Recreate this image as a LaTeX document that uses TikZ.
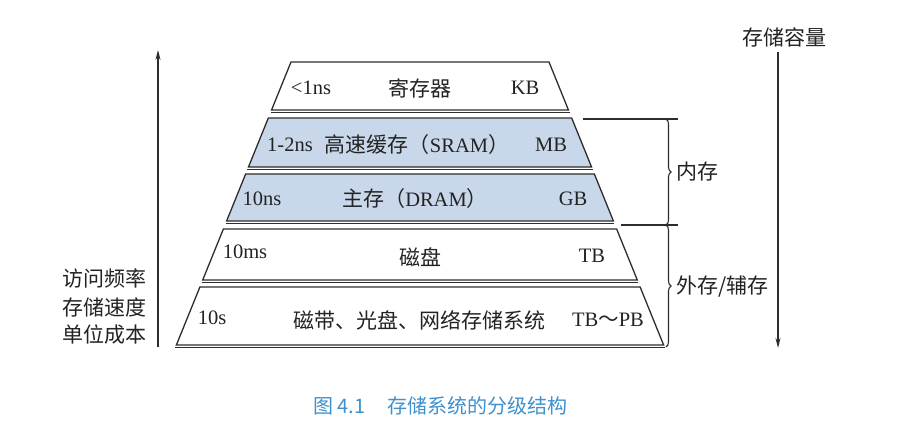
\documentclass[tikz,border=0pt]{standalone}
\usepackage{fontspec}
\setmainfont{Liberation Serif}
\newfontfamily\cjk{Noto Sans CJK SC}
\usetikzlibrary{arrows.meta,decorations.pathreplacing}
\definecolor{lineg}{RGB}{45,45,45}
\definecolor{txtg}{RGB}{35,35,35}
\definecolor{layerblue}{RGB}{200,215,234}
\definecolor{capblue}{RGB}{62,145,205}
\newcommand\pyrlayer[4]{%
  \pgfmathsetmacro\hwt{129+0.405*(#2-62)}%
  \pgfmathsetmacro\hwb{129+0.405*(#3-62)}%
  \pgfmathsetmacro\hws{129+0.405*(#3+2.6-62)}%
  \coordinate (#1-tl) at (420-\hwt,#2);
  \coordinate (#1-tr) at (420+\hwt,#2);
  \coordinate (#1-br) at (420+\hwb,#3);
  \coordinate (#1-bl) at (420-\hwb,#3);
  \coordinate (#1-sl) at (420-\hws,#3+2.6);
  \coordinate (#1-sr) at (420+\hws,#3+2.6);
  \draw[layerline,fill=#4] (#1-tl) -- (#1-tr) -- (#1-br) -- (#1-bl) -- cycle;
  \draw[layerline] (#1-sl) -- (#1-sr);
}
\tikzset{
  layerline/.style={draw=lineg,line width=1.3pt,line join=miter},
  lbl/.style={text=txtg,font=\fontsize{20.5}{24}\selectfont,inner sep=0pt},
  cl/.style={text=txtg,font=\fontsize{21}{25}\selectfont\cjk,inner sep=0pt},
  axis/.style={draw=lineg,line width=1.3pt,-{Stealth[length=10pt,width=5pt]}},
  bracestyle/.style={draw=lineg,line width=1.1pt,decorate,decoration={brace,amplitude=5pt}},
  guide/.style={draw=lineg,line width=1.1pt}
}
\begin{document}
\begin{tikzpicture}[x=1pt,y=-1pt]
\useasboundingbox (0,0) rectangle (909,426);
\fill[white] (0,0) rectangle (909,426);

\pyrlayer{L1}{62}{110}{white}
\pyrlayer{L2}{118}{167}{layerblue}
\pyrlayer{L3}{174}{221}{layerblue}
\pyrlayer{L4}{229}{280}{white}
\pyrlayer{L5}{287}{345}{white}

% layer texts
\node[lbl] (t1a) at (311,88) {<1ns};
\node[cl] (t1b) at (420,88) {寄存器};
\node[lbl] (t1c) at (525,88) {KB};

\node[lbl] (t2a) at (290,145) {1-2ns};
\node[lbl] (t2b) at (417,145) {{\fontsize{21}{25}\selectfont\cjk 高速缓存（}SRAM{\fontsize{21}{25}\selectfont\cjk ）}};
\node[lbl] (t2c) at (551,145) {MB};

\node[lbl] (t3a) at (262,199) {10ns};
\node[lbl] (t3b) at (415,199) {{\fontsize{21}{25}\selectfont\cjk 主存（}DRAM{\fontsize{21}{25}\selectfont\cjk ）}};
\node[lbl] (t3c) at (573,199) {GB};

\node[lbl] (t4a) at (245,252) {10ms};
\node[cl] (t4b) at (420,257) {磁盘};
\node[lbl] (t4c) at (592,256) {TB};

\node[lbl] (t5a) at (212,318) {10s};
\node[cl] (t5b) at (419,320) {磁带、光盘、网络存储系统};
\node[lbl] (t5c) at (608,320) {TB{\cjk ～}PB};

% guide lines and braces
\coordinate (m1) at (583,119);
\coordinate (m1e) at (678,119);
\coordinate (m2) at (621,225);
\coordinate (m2e) at (678,225);
\coordinate (bt) at (666,119);
\coordinate (bm) at (666,225);
\coordinate (bb) at (666,347);
\draw[guide] (m1) -- (m1e);
\draw[guide] (m2) -- (m2e);
\draw[bracestyle] (bt) -- (bm);
\draw[bracestyle] (bm) -- (bb);
\node[cl,anchor=west] (nc) at (676,172) {内存};
\node[cl,anchor=west] (wc) at (676,287) {外存/辅存};

% axes
\coordinate (la0) at (158,347);
\coordinate (la1) at (158,50);
\draw[axis] (la0) -- (la1);
\node[cl,anchor=east] (l1) at (147,278) {访问频率};
\node[cl,anchor=east] (l2) at (147,307) {存储速度};
\node[cl,anchor=east] (l3) at (147,335) {单位成本};

\node[cl] (cap) at (784,37) {存储容量};
\coordinate (ra0) at (778,52);
\coordinate (ra1) at (778,348);
\draw[axis] (ra0) -- (ra1);

% caption
\node[cl,anchor=west,text=capblue,font=\fontsize{20}{24}\selectfont\cjk] (fig) at (313,406) {图 4.1\hspace{22pt}存储系统的分级结构};
\end{tikzpicture}
\end{document}
